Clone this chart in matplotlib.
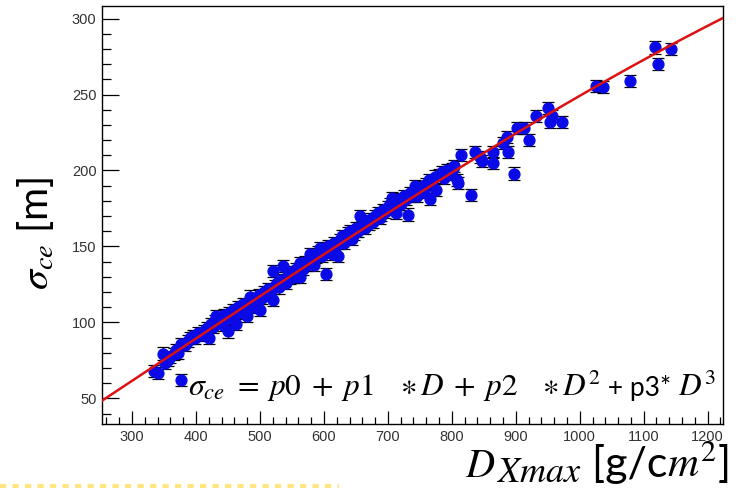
import numpy as np
import matplotlib
matplotlib.use("Agg")
import matplotlib.pyplot as plt
from matplotlib.lines import Line2D
from matplotlib.ticker import MultipleLocator

plt.rcParams['mathtext.fontset'] = 'stix'

# ---- data ----
D_xmax = [335, 341, 349, 352, 356, 360, 365, 369, 372, 377, 377, 383, 387, 390, 395, 398,
          403, 408, 412, 417, 421, 424, 427, 430, 432, 436, 439, 442, 444, 447, 450, 452,
          455, 458, 460, 463, 465, 468, 470, 473, 476, 479, 481, 484, 486, 489, 492, 495,
          498, 500, 503, 506, 509, 512, 515, 518, 521, 521, 524, 527, 530, 533, 536, 538,
          541, 544, 547, 550, 553, 556, 559, 562, 562, 565, 568, 571, 574, 578, 581, 584,
          587, 590, 594, 597, 600, 604, 607, 610, 613, 616, 619, 622, 625, 628, 631, 634,
          637, 641, 644, 647, 650, 653, 656, 659, 662, 665, 668, 671, 674, 677, 680, 684,
          687, 690, 693, 696, 700, 703, 706, 709, 712, 715, 718, 721, 725, 729, 732, 735,
          738, 742, 745, 748, 752, 756, 760, 764, 766, 769, 773, 776, 780, 784, 788, 792,
          796, 800, 802, 803, 808, 810, 815, 830, 836, 844, 847, 865, 865, 880, 886, 888,
          897, 902, 913, 920, 932, 951, 953, 956, 972, 1025, 1036, 1078, 1118, 1123, 1143]
sigma_ce = [68, 66.5, 79.5, 73, 75, 77, 79, 82, 80, 86, 62, 85, 88, 89.5, 91, 90,
            93, 92, 94.5, 96, 89.5, 99, 97, 101, 104, 100, 102, 98, 105, 103, 94, 106,
            104, 108, 102, 99, 110, 107, 109, 112, 106, 104, 111, 117, 113, 110, 115, 113,
            118, 108, 116, 120, 118, 122, 119, 121, 115, 134, 124, 126, 123, 128, 137, 127,
            126, 131, 129, 133, 130, 135, 132, 139, 130, 137, 135, 140, 138, 145, 141, 138,
            143, 146, 149, 144, 147, 132, 150, 148, 145, 152, 150, 144, 154, 157, 152, 156,
            159, 160, 155, 158, 162, 160, 170, 163, 165, 162, 167, 165, 168, 166, 170, 172,
            169, 171, 174, 173, 176, 178, 182, 175, 172, 179, 181, 178, 183, 181, 171, 185,
            183, 190, 183, 187, 189, 186, 191, 194, 181, 192, 196, 187, 197, 199, 195, 200,
            198, 201, 201, 203, 194, 192, 210, 184, 212, 209, 206, 212, 205, 218, 222, 212,
            198, 228, 228, 220, 236, 241, 232, 236, 232, 255.5, 255, 259, 281, 270, 280]
sigma_err = 4.0

# cubic fit parameters: sigma = p0 + p1*D + p2*D^2 + p3*D^3
p0, p1, p2, p3 = -20.71, 0.2669, 3.3e-5, -3.0e-8

x_ticks = [300, 400, 500, 600, 700, 800, 900, 1000, 1100, 1200]
y_ticks = [50, 100, 150, 200, 250, 300]

W, H = 736, 490

# ---- figure ----
fig = plt.figure(figsize=(W/100, H/100), dpi=100)
ax = fig.add_axes([102/W, 1-424/H, (723-102)/W, (424-6)/H])

ax.errorbar(D_xmax, sigma_ce, yerr=sigma_err, fmt='o', color='#0a0ae6',
            markersize=7.8, ecolor='black', elinewidth=0.9, capsize=4.5,
            capthick=0.9, zorder=3)

D_fit = np.linspace(253, 1224, 300)
ax.plot(D_fit, p0 + p1*D_fit + p2*D_fit**2 + p3*D_fit**3, color='#dd1111', lw=1.8, zorder=4)

ax.set_xlim(253, 1224)
ax.set_ylim(33.1, 308.3)
ax.set_xticks(x_ticks)
ax.set_yticks(y_ticks)
ax.xaxis.set_minor_locator(MultipleLocator(20))
ax.yaxis.set_minor_locator(MultipleLocator(10))
ax.tick_params(axis='both', which='both', direction='in', colors='black',
               labelcolor='#333333', labelsize=10.5, width=0.9)
ax.tick_params(axis='y', which='major', length=12.5, pad=4)
ax.tick_params(axis='y', which='minor', length=6.5)
ax.tick_params(axis='x', which='major', length=9.5, pad=4)
ax.tick_params(axis='x', which='minor', length=5)
for lab in ax.get_xticklabels() + ax.get_yticklabels():
    lab.set_fontfamily('Liberation Sans')
for s in ax.spines.values():
    s.set_linewidth(1.0)

renderer = fig.canvas.get_renderer()


def put_seq(x0, base, pieces):
    """Place text pieces one after another (x, baseline in pixels from top-left)."""
    x = x0
    for txt, size, dy, fam in pieces:
        t = fig.text(x/W, 1-(base+dy)/H, txt, fontsize=size, family=fam,
                     ha='left', va='baseline')
        bb = t.get_window_extent(renderer)
        x = x + bb.width


# formula inside the plot
put_seq(188, 396, [
    (r'$\sigma_{ce}$', 23, 0, 'Lato'),
    (r'$\ =\;p0\;+\;p1\;\;\;\;{\ast}\,D\;+\;p2\;\;\;\;{\ast}\,D^2$', 22.5, 0, 'Lato'),
    (' + p3* ', 19, 0, 'Lato'),
    (r'$D^3$', 22.5, 0, 'Lato'),
])

# x axis label
put_seq(465, 477, [
    (r'$D$', 29, 0, 'Lato'),
    (r'$Xmax$', 26, 5, 'Lato'),
    (' [g/c', 31, 0, 'Lato'),
    (r'$m^2$', 31, 0, 'Lato'),
    (']', 31, 0, 'Lato'),
])

# y axis label
fig.text(35/W, 1-233/H, r'$\sigma_{ce}$' + ' [m]', fontsize=29, family='Lato',
         rotation=90, ha='center', va='center')

# decorative dashed yellow line at bottom
fig.add_artist(Line2D([0, 0.46], [1-486/H, 1-486/H], transform=fig.transFigure,
                      color='#ffe680', lw=3, ls=(0, (1.5, 1.5))))

fig.savefig('out.png', dpi=100)
